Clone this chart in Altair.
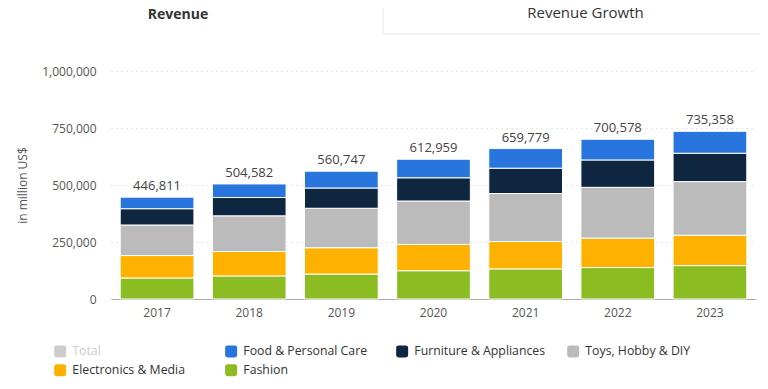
import altair as alt
import pandas as pd

years = ["2017", "2018", "2019", "2020", "2021", "2022", "2023"]
totals = [446811, 504582, 560747, 612959, 659779, 700578, 735358]
fashion = [92300, 101200, 109500, 124100, 132000, 138000, 146500]
electronics = [98300, 107200, 115400, 115200, 120100, 129100, 133200]
toys = [134000, 156300, 173100, 190500, 210500, 222600, 235300]
furniture = [71500, 80400, 88800, 101900, 111200, 120200, 124300]
food = [50700, 59500, 73900, 81300, 86000, 90700, 96100]

legend_order = ["Total", "Food & Personal Care", "Furniture & Appliances",
                "Toys, Hobby & DIY", "Electronics & Media", "Fashion"]
legend_colors = ["#cccccc", "#2876dd", "#0f2641", "#bbbbbb", "#ffb100", "#8bbd22"]

series = [
    ("Fashion", fashion),
    ("Electronics & Media", electronics),
    ("Toys, Hobby & DIY", toys),
    ("Furniture & Appliances", furniture),
    ("Food & Personal Care", food),
]

rows = []
for idx, (name, vals) in enumerate(series):
    for y, v in zip(years, vals):
        rows.append({"year": y, "segment": name, "value": v, "ord": idx})
df = pd.DataFrame(rows)
tot_df = pd.DataFrame({"year": years, "total": totals})

FONT = "Open Sans"

x_enc = alt.X("year:N", title=None,
              scale=alt.Scale(paddingInner=0.2, paddingOuter=0.1),
              axis=alt.Axis(labelAngle=0, ticks=False, domainColor="#aaaaaa",
                            labelColor="#555555", labelFontSize=12, labelPadding=8,
                            labelFont=FONT))

y_axis = alt.Axis(values=[0, 250000, 500000, 750000, 1000000], format=",.0f",
                  ticks=False, domain=False, gridDash=[1, 4], gridColor="#cccccc",
                  labelColor="#555555", labelFontSize=12, labelPadding=15,
                  labelFont=FONT, titleFont=FONT, titleFontSize=12,
                  titleFontWeight="normal", titleColor="#555555", titlePadding=12)
y_scale = alt.Scale(domain=[0, 1000000], nice=False)

bars = alt.Chart(df).mark_bar(stroke="white", strokeWidth=1).encode(
    x=x_enc,
    y=alt.Y("value:Q", stack="zero", title="in million US$", scale=y_scale, axis=y_axis),
    color=alt.Color("segment:N", scale=alt.Scale(domain=legend_order, range=legend_colors),
                    sort=legend_order,
                    legend=alt.Legend(title=None, orient="none", legendX=-57, legendY=274,
                                      direction="horizontal",
                                      columns=4, columnPadding=21, gridAlign="all",
                                      rowPadding=6,
                                      symbolType="M -1 -0.6 Q -1 -1 -0.6 -1 L 0.6 -1 Q 1 -1 1 -0.6 L 1 0.6 Q 1 1 0.6 1 L -0.6 1 Q -1 1 -1 0.6 Z",
                                      symbolSize=144, symbolStrokeWidth=0,
                                      labelFont=FONT, labelFontSize=12.3,
                                      labelColor={"expr": "datum.label === 'Total' ? '#cccccc' : '#333333'"},
                                      labelOffset=6)),
    order=alt.Order("ord:Q", sort="ascending"),
)

labels = alt.Chart(tot_df).mark_text(baseline="bottom", dy=-4, fontSize=13,
                                     font=FONT, color="#444444").encode(
    x=alt.X("year:N"),
    y=alt.Y("total:Q", title="in million US$", scale=y_scale, axis=y_axis),
    text=alt.Text("total:Q", format=","),
)

one = pd.DataFrame({"a": [0]})
tab1 = alt.Chart(one).mark_text(font=FONT, fontSize=14, fontWeight="bold",
                                baseline="alphabetic",
                                color="#333333", text="Revenue").encode(
    x=alt.value(67), y=alt.value(-52))
tab2 = alt.Chart(one).mark_text(font=FONT, fontSize=15, color="#333333",
                                baseline="alphabetic",
                                text="Revenue Growth").encode(
    x=alt.value(474.5), y=alt.value(-53))
tab_left = alt.Chart(one).mark_rule(color="#e6e6e6", strokeWidth=1).encode(
    x=alt.value(272), y=alt.value(-63), y2=alt.value(-37))
tab_bottom = alt.Chart(one).mark_rule(color="#e6e6e6", strokeWidth=1).encode(
    x=alt.value(272), x2=alt.value(652), y=alt.value(-37))

chart = alt.layer(bars, labels, tab_left, tab_bottom, tab1, tab2).properties(
    width=645, height=228,
    autosize=alt.AutoSizeParams(type="none"),
    padding={"left": 103, "top": 63, "right": 4, "bottom": 82},
).configure_view(stroke=None)

chart.save("out.html", embed_options={"renderer": "svg", "actions": False})
